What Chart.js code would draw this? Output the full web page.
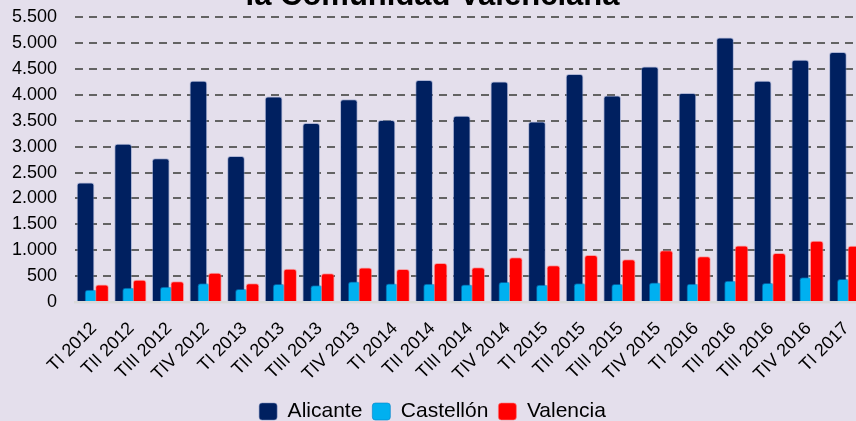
<!DOCTYPE html>
<html>
<head>
<meta charset="utf-8">
<script src="https://cdn.jsdelivr.net/npm/chart.js@4.4.1/dist/chart.umd.min.js"></script>
<style>
  html, body { margin: 0; padding: 0; background: #e4dfec; overflow: hidden; }
  #wrap { position: absolute; left: 0; top: -22px; width: 890px; height: 454px; }
</style>
</head>
<body>
<div id="wrap"><canvas id="myChart" width="890" height="454"></canvas></div>
<script>
const quarters = [
    "TI 2012", "TII 2012", "TIII 2012", "TIV 2012",
    "TI 2013", "TII 2013", "TIII 2013", "TIV 2013",
    "TI 2014", "TII 2014", "TIII 2014", "TIV 2014",
    "TI 2015", "TII 2015", "TIII 2015", "TIV 2015",
    "TI 2016", "TII 2016", "TIII 2016", "TIV 2016",
    "TI 2017"
];
const alicante = [2300, 3050, 2770, 4265, 2815, 3960, 3450, 3910, 3510, 4280, 3590,
                  4250, 3480, 4395, 3980, 4540, 4030, 5100, 4265, 4670, 4820];
const castellon = [230, 270, 290, 355, 245, 340, 315, 390, 350, 345, 330,
                   380, 325, 355, 340, 370, 345, 405, 360, 470, 440];
const valencia = [330, 425, 395, 560, 355, 635, 550, 660, 630, 745, 665,
                  860, 705, 900, 820, 995, 875, 1085, 940, 1175, 1080];

// bars overlap inside each quarter, so they sit on a linear axis with a small shift
function place(values, shift) {
    return values.map((v, i) => ({ x: i + shift, y: v }));
}

function miles(v) {
    return String(v).replace(/\B(?=(\d{3})+(?!\d))/g, ".");
}

Chart.defaults.font.family = "'Liberation Sans', Arial, sans-serif";
Chart.defaults.color = "#000";

const ctx = document.getElementById("myChart").getContext("2d");
new Chart(ctx, {
    type: "bar",
    data: {
        datasets: [
            {
                label: "Alicante",
                data: place(alicante, -0.22),
                backgroundColor: "#002060",
                borderColor: "rgba(120,140,190,0.5)",
                borderWidth: 1,
                barThickness: 17,
                order: 2,
            },
            {
                label: "Castellón",
                data: place(castellon, -0.075),
                backgroundColor: "#00b0f0",
                borderColor: "rgba(0,130,200,0.6)",
                borderWidth: 1,
                barThickness: 12,
                order: 1,
            },
            {
                label: "Valencia",
                data: place(valencia, 0.218),
                backgroundColor: "#ff0000",
                borderColor: "rgba(255,120,120,0.6)",
                borderWidth: 1,
                barThickness: 13,
                order: 0,
            },
        ],
    },
    options: {
        responsive: false,
        animation: false,
        grouped: false,
        borderRadius: 3,
        borderSkipped: "start",
        layout: {
            padding: { left: 0, right: 25, top: 0, bottom: 0 },
        },
        plugins: {
            tooltip: { enabled: false },
            title: {
                display: true,
                text: "la Comunidad Valenciana",
                font: { size: 31, weight: "bold" },
                padding: { top: 0, bottom: 2 },
            },
            legend: {
                position: "bottom",
                labels: {
                    boxWidth: 18,
                    boxHeight: 17,
                    padding: 10,
                    useBorderRadius: true,
                    borderRadius: 3,
                    font: { size: 21 },
                    sort: (a, b) => a.datasetIndex - b.datasetIndex,
                },
            },
        },
        scales: {
            x: {
                type: "linear",
                offset: false,
                min: -0.5,
                max: 20.5,
                afterBuildTicks: (scale) => {
                    scale.ticks = quarters.map((q, i) => ({ value: i }));
                },
                afterFit: (scale) => { scale.height = 89; },
                grid: { display: false, drawTicks: false },
                border: { display: true, color: "#d9d9d9", width: 2.5, z: 1 },
                ticks: {
                    autoSkip: false,
                    minRotation: 45,
                    maxRotation: 45,
                    padding: 16,
                    font: { size: 18 },
                    callback: (v) => quarters[Math.round(v)] ?? "",
                },
            },
            y: {
                min: 0,
                max: 5500,
                afterFit: (scale) => { scale.width = 75; },
                border: { display: false, dash: [8, 6] },
                grid: {
                    drawTicks: false,
                    lineWidth: 2,
                    color: (c) => (c.tick && c.tick.value === 0 ? "rgba(0,0,0,0)" : "#636363"),
                },
                ticks: {
                    stepSize: 500,
                    padding: 18,
                    font: { size: 18 },
                    callback: (v) => miles(v),
                },
            },
        },
    },
});
</script>
</body>
</html>
